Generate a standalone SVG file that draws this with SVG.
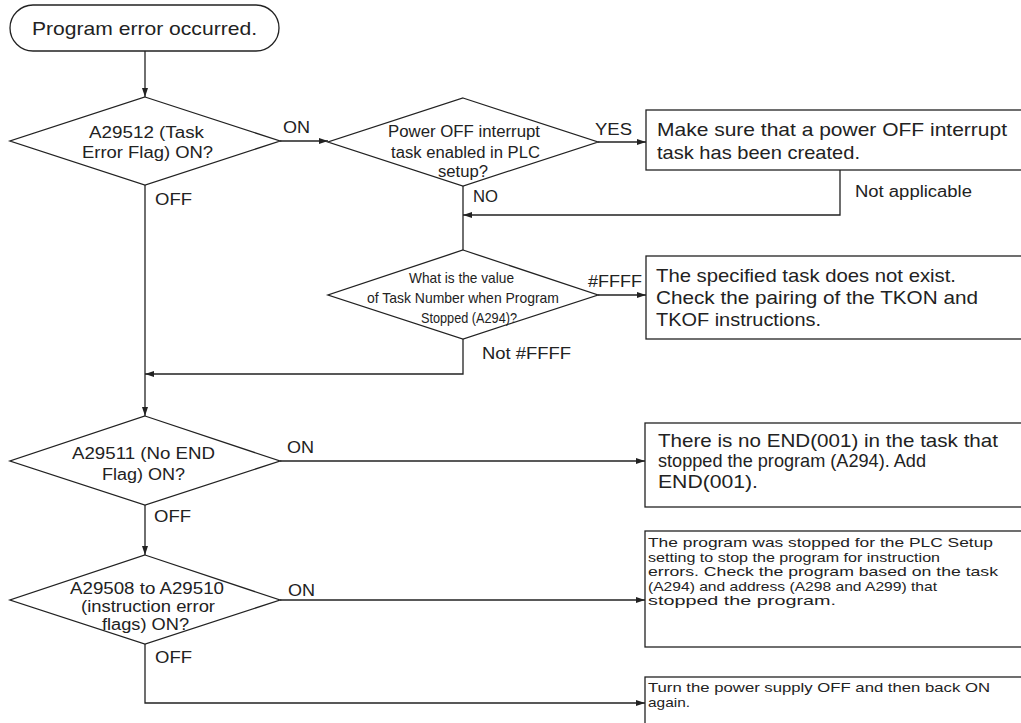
<svg xmlns="http://www.w3.org/2000/svg" width="1021" height="723" viewBox="0 0 1021 723">
<style>
.shape{fill:#fff;stroke:#222;stroke-width:1.3}
.conn{fill:none;stroke:#222;stroke-width:1.3}
text{font-family:"Liberation Sans",Arial,Helvetica,sans-serif;fill:#222}
.big{font-size:18.5px}
.mid{font-size:16px}
.sm{font-size:15px}
.xs{font-size:13.5px}
.c{text-anchor:middle}
</style>
<defs>
<marker id="arr" viewBox="0 0 9 6" refX="9" refY="3" markerWidth="9" markerHeight="6" markerUnits="userSpaceOnUse" orient="auto">
<path d="M0,0 L9,3 L0,6 z" fill="#222"/>
</marker>
</defs>
<rect width="1021" height="723" fill="#fff"/>
<g id="connectors">
<path class="conn" d="M145,51 V97" marker-end="url(#arr)"/>
<path class="conn" d="M280,141 H328" marker-end="url(#arr)"/>
<path class="conn" d="M598,142 H646" marker-end="url(#arr)"/>
<path class="conn" d="M840,170 V215 H463" marker-end="url(#arr)"/>
<path class="conn" d="M463,186 V250"/>
<path class="conn" d="M598,295 H646" marker-end="url(#arr)"/>
<path class="conn" d="M463,339 V374 H145" marker-end="url(#arr)"/>
<path class="conn" d="M145,185 V416" marker-end="url(#arr)"/>
<path class="conn" d="M280,461 H645" marker-end="url(#arr)"/>
<path class="conn" d="M145,505 V555" marker-end="url(#arr)"/>
<path class="conn" d="M280,600 H645" marker-end="url(#arr)"/>
<path class="conn" d="M145,644 V703 H645" marker-end="url(#arr)"/>
<text class="mid" x="283" y="133" textLength="27" lengthAdjust="spacingAndGlyphs">ON</text>
<text class="mid" x="155" y="205" textLength="37" lengthAdjust="spacingAndGlyphs">OFF</text>
<text class="mid" x="595" y="135" textLength="37" lengthAdjust="spacingAndGlyphs">YES</text>
<text class="mid" x="473" y="202" textLength="25" lengthAdjust="spacingAndGlyphs">NO</text>
<text class="mid" x="855" y="197" textLength="117" lengthAdjust="spacingAndGlyphs">Not applicable</text>
<text class="mid" x="588" y="287" textLength="54" lengthAdjust="spacingAndGlyphs">#FFFF</text>
<text class="mid" x="482" y="359" textLength="89" lengthAdjust="spacingAndGlyphs">Not #FFFF</text>
<text class="mid" x="287" y="453" textLength="27" lengthAdjust="spacingAndGlyphs">ON</text>
<text class="mid" x="154" y="522" textLength="37" lengthAdjust="spacingAndGlyphs">OFF</text>
<text class="mid" x="288" y="596" textLength="27" lengthAdjust="spacingAndGlyphs">ON</text>
<text class="mid" x="155" y="663" textLength="37" lengthAdjust="spacingAndGlyphs">OFF</text>
</g>
<g id="start">
<rect class="shape" x="10" y="5" width="269" height="46" rx="23"/>
<text class="big c" x="144.5" y="35" textLength="225" lengthAdjust="spacingAndGlyphs">Program error occurred.</text>
</g>
<g id="d1">
<polygon class="shape" points="145,97 280,141 145,185 10,141"/>
<text class="mid c" x="146.5" y="138" textLength="115" lengthAdjust="spacingAndGlyphs">A29512 (Task</text>
<text class="mid c" x="147.5" y="158" textLength="131" lengthAdjust="spacingAndGlyphs">Error Flag) ON?</text>
</g>
<g id="d2">
<polygon class="shape" points="463,98 598,142 463,186 328,142"/>
<text class="mid c" x="464" y="137" textLength="152" lengthAdjust="spacingAndGlyphs">Power OFF interrupt</text>
<text class="mid c" x="465.5" y="158" textLength="149" lengthAdjust="spacingAndGlyphs">task enabled in PLC</text>
<text class="mid c" x="463" y="177" textLength="50" lengthAdjust="spacingAndGlyphs">setup?</text>
</g>
<g id="box1">
<rect class="shape" x="646" y="110" width="420" height="60"/>
<text class="big" x="657" y="136" textLength="350" lengthAdjust="spacingAndGlyphs">Make sure that a power OFF interrupt</text>
<text class="big" x="657" y="159" textLength="203" lengthAdjust="spacingAndGlyphs">task has been created.</text>
</g>
<g id="d3">
<polygon class="shape" points="463,250 598,295 463,339 328,295"/>
<text class="sm c" x="461.5" y="283" textLength="105" lengthAdjust="spacingAndGlyphs">What is the value</text>
<text class="sm c" x="463" y="303" textLength="192" lengthAdjust="spacingAndGlyphs">of Task Number when Program</text>
<text class="sm c" x="469" y="323" textLength="96" lengthAdjust="spacingAndGlyphs">Stopped (A294)?</text>
</g>
<g id="box2">
<rect class="shape" x="646" y="256" width="420" height="83"/>
<text class="big" x="656" y="282" textLength="300" lengthAdjust="spacingAndGlyphs">The specified task does not exist.</text>
<text class="big" x="656" y="304" textLength="322" lengthAdjust="spacingAndGlyphs">Check the pairing of the TKON and</text>
<text class="big" x="656" y="326" textLength="165" lengthAdjust="spacingAndGlyphs">TKOF instructions.</text>
</g>
<g id="d4">
<polygon class="shape" points="145,416 280,461 145,505 10,461"/>
<text class="mid c" x="143.5" y="459" textLength="143" lengthAdjust="spacingAndGlyphs">A29511 (No END</text>
<text class="mid c" x="143.5" y="480" textLength="83" lengthAdjust="spacingAndGlyphs">Flag) ON?</text>
</g>
<g id="box3">
<rect class="shape" x="645" y="423" width="420" height="84"/>
<text class="big" x="658" y="447" textLength="340" lengthAdjust="spacingAndGlyphs">There is no END(001) in the task that</text>
<text class="big" x="658" y="467" textLength="268" lengthAdjust="spacingAndGlyphs">stopped the program (A294). Add</text>
<text class="big" x="658" y="488" textLength="100" lengthAdjust="spacingAndGlyphs">END(001).</text>
</g>
<g id="d5">
<polygon class="shape" points="145,555 280,600 145,644 10,600"/>
<text class="mid c" x="147" y="594" textLength="154" lengthAdjust="spacingAndGlyphs">A29508 to A29510</text>
<text class="mid c" x="148" y="612" textLength="134" lengthAdjust="spacingAndGlyphs">(instruction error</text>
<text class="mid c" x="145.5" y="630" textLength="87" lengthAdjust="spacingAndGlyphs">flags) ON?</text>
</g>
<g id="box4">
<rect class="shape" x="645" y="531" width="420" height="116"/>
<text class="xs" x="648" y="547" textLength="345" lengthAdjust="spacingAndGlyphs">The program was stopped for the PLC Setup</text>
<text class="xs" x="648" y="561.5" textLength="292" lengthAdjust="spacingAndGlyphs">setting to stop the program for instruction</text>
<text class="xs" x="648" y="576" textLength="350" lengthAdjust="spacingAndGlyphs">errors. Check the program based on the task</text>
<text class="xs" x="648" y="590.5" textLength="289" lengthAdjust="spacingAndGlyphs">(A294) and address (A298 and A299) that</text>
<text class="xs" x="648" y="605" textLength="188" lengthAdjust="spacingAndGlyphs">stopped the program.</text>
</g>
<g id="box5">
<rect class="shape" x="645" y="677" width="420" height="60"/>
<text class="xs" x="648" y="692" textLength="342" lengthAdjust="spacingAndGlyphs">Turn the power supply OFF and then back ON</text>
<text class="xs" x="648" y="706.5" textLength="42" lengthAdjust="spacingAndGlyphs">again.</text>
</g>
</svg>
